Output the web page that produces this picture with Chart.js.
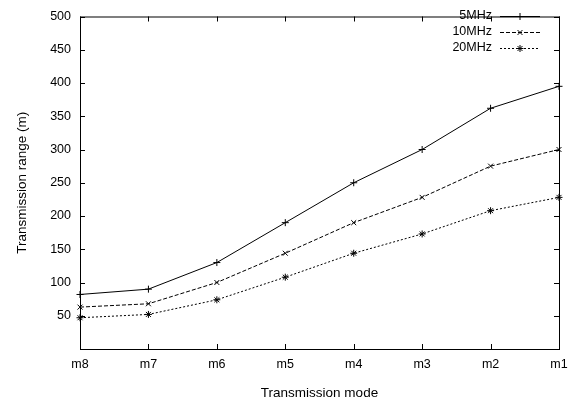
<!DOCTYPE html>
<html>
<head>
<meta charset="utf-8">
<script src="https://cdn.jsdelivr.net/npm/chart.js@4"></script>
<style>
  html, body { margin: 0; padding: 0; background: #fff; }
  #wrap { width: 579px; height: 401px; }
</style>
</head>
<body>
<div id="wrap"><canvas id="rangeChart"></canvas></div>
<script>
var modes = ["m8", "m7", "m6", "m5", "m4", "m3", "m2", "m1"];
var range5 = [82, 90, 130, 190, 250, 300, 362, 395];
var range10 = [63, 68, 100, 144, 190, 228, 275, 300];
var range20 = [47, 52, 74, 108, 144, 173, 208, 228];
var yTicks = [50, 100, 150, 200, 250, 300, 350, 400, 450, 500];
var seriesNames = ["5MHz", "10MHz", "20MHz"];

var FONT = "'Liberation Sans', Arial, sans-serif";

// gnuplot-style frame with inward ticks on all four sides, plus legend inside
var framePlugin = {
    id: "frame",
    afterDatasetsDraw: function (chart) {
        var ctx = chart.ctx;
        var a = chart.chartArea;
        var xs = chart.scales.x;
        var ys = chart.scales.y;
        ctx.save();
        ctx.strokeStyle = "#000";
        ctx.lineWidth = 1;
        ctx.setLineDash([]);
        ctx.strokeRect(a.left + 0.5, a.top + 0.5, a.right - a.left, a.bottom - a.top);
        ctx.beginPath();
        modes.forEach(function (m, i) {
            var px = Math.round(xs.getPixelForValue(i)) + 0.5;
            ctx.moveTo(px, a.bottom);
            ctx.lineTo(px, a.bottom - 5);
            ctx.moveTo(px, a.top);
            ctx.lineTo(px, a.top + 5);
        });
        yTicks.forEach(function (v) {
            var py = Math.round(ys.getPixelForValue(v)) + 0.5;
            ctx.moveTo(a.left, py);
            ctx.lineTo(a.left + 5, py);
            ctx.moveTo(a.right, py);
            ctx.lineTo(a.right - 5, py);
        });
        ctx.stroke();

        // legend
        ctx.font = "12.5px " + FONT;
        ctx.fillStyle = "#000";
        ctx.textAlign = "right";
        ctx.textBaseline = "middle";
        chart.data.datasets.forEach(function (ds, i) {
            var y = 16 + i * 16;
            ctx.fillText(ds.label, 492, y);
            ctx.setLineDash(ds.borderDash || []);
            ctx.beginPath();
            ctx.moveTo(500, Math.round(y) + 0.5);
            ctx.lineTo(540, Math.round(y) + 0.5);
            ctx.stroke();
            ctx.setLineDash([]);
            Chart.helpers.drawPoint(ctx, {
                pointStyle: ds.pointStyle,
                radius: 3.5,
                borderWidth: 1
            }, 520, Math.round(y) + 0.5);
        });
        ctx.restore();
    }
};

function makeSet(label, data, dash, style) {
    return {
        label: label,
        data: data,
        borderColor: "#000",
        backgroundColor: "#000",
        borderWidth: 1,
        borderDash: dash,
        pointStyle: style,
        pointRadius: 3.5,
        pointBorderWidth: 1,
        tension: 0,
        fill: false
    };
}

new Chart(document.getElementById("rangeChart"), {
    type: "line",
    data: {
        labels: modes,
        datasets: [
            makeSet(seriesNames[0], range5, [], "cross"),
            makeSet(seriesNames[1], range10, [4, 2], "crossRot"),
            makeSet(seriesNames[2], range20, [2, 2], "star")
        ]
    },
    plugins: [framePlugin],
    options: {
        responsive: true,
        maintainAspectRatio: false,
        animation: false,
        layout: { padding: { top: 6, right: 20, left: 0, bottom: 0 } },
        plugins: {
            legend: { display: false },
            tooltip: { enabled: false }
        },
        scales: {
            x: {
                type: "category",
                offset: false,
                grid: { display: false, drawTicks: false },
                border: { display: false },
                ticks: {
                    color: "#000",
                    padding: 8,
                    maxRotation: 0,
                    font: { family: FONT, size: 12.5 }
                },
                title: {
                    display: true,
                    text: "Transmission mode",
                    color: "#000",
                    padding: { top: 12, bottom: 0 },
                    font: { family: FONT, size: 13.5 }
                },
                afterFit: function (scale) { scale.height = 52; }
            },
            y: {
                min: 0,
                max: 500,
                grid: { display: false, drawTicks: false },
                border: { display: false },
                afterBuildTicks: function (scale) {
                    scale.ticks = [0].concat(yTicks).map(function (v) { return { value: v }; });
                },
                ticks: {
                    color: "#000",
                    padding: 9,
                    font: { family: FONT, size: 12.5 },
                    callback: function (v) { return v === 0 ? "" : v; }
                },
                title: {
                    display: true,
                    text: "Transmission range (m)",
                    color: "#000",
                    padding: { top: 14, bottom: 0 },
                    font: { family: FONT, size: 13.5 }
                },
                afterFit: function (scale) { scale.width = 80; }
            }
        }
    }
});
</script>
</body>
</html>
